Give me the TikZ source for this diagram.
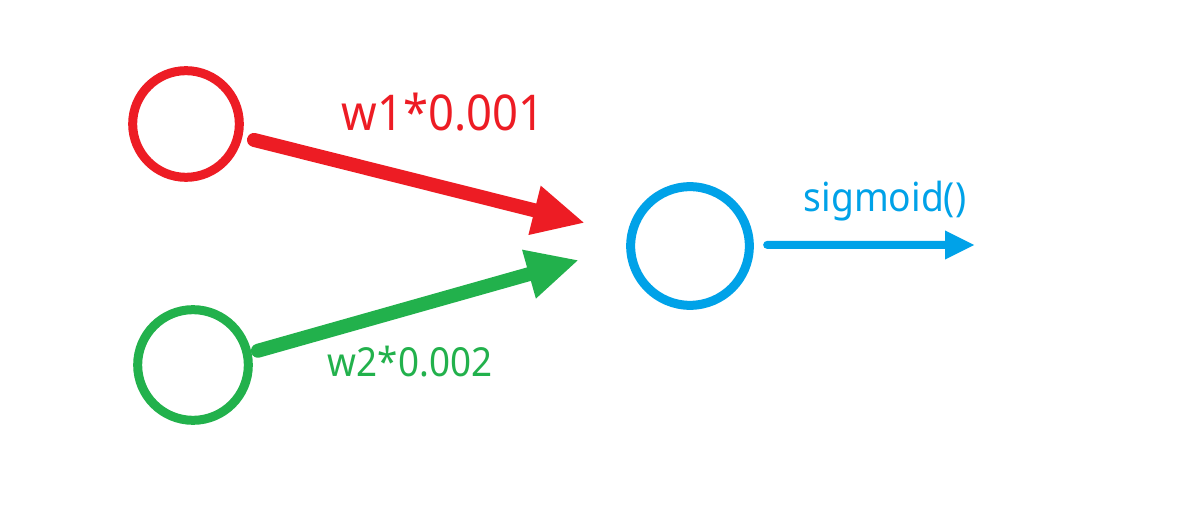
\documentclass[tikz,border=0pt]{standalone}
\usepackage{fontspec}
\setmainfont{Noto Sans}
\usetikzlibrary{arrows.meta}
\definecolor{pred}{HTML}{ED1C24}
\definecolor{pgreen}{HTML}{22B14C}
\definecolor{pblue}{HTML}{00A2E8}
\begin{document}
\begin{tikzpicture}[x=0.75pt,y=-0.75pt,
  neuron/.style={circle,draw,line width=6.75pt,inner sep=0pt},
  bigarrow/.style={line width=10.5pt,line cap=round,-{Triangle[length=39pt,width=35pt]}},
  smallarrow/.style={line width=6pt,line cap=round,-{Triangle[length=22.5pt,width=20pt]}},
  lbl/.style={inner sep=0pt}]
\useasboundingbox (0,0) rectangle (1180,523);
\fill[white] (0,0) rectangle (1180,523);
\node[neuron,pred,minimum size=80pt] (r) at (186,124) {};
\node[neuron,pgreen,minimum size=83pt] (g) at (193,365) {};
\node[neuron,pblue,minimum size=89pt] (b) at (690,246) {};
\coordinate (rt) at (585,223);
\coordinate (gt) at (579,260);
\coordinate (bt) at (975,245);
\draw[bigarrow,pred,shorten <=9pt] (r.-13) -- (rt);
\draw[bigarrow,pgreen,shorten <=5pt] (g.12.5) -- (gt);
\draw[smallarrow,pblue,shorten <=10pt] (b.1) -- (bt);
\node[lbl,text=pred,font=\fontsize{37}{40}\selectfont] (t1) at (443,112) {\scalebox{0.92}[1]{w1*0.001}};
\node[lbl,text=pgreen,font=\fontsize{30}{33}\selectfont] (t2) at (410,362) {\scalebox{0.92}[1]{w2*0.002}};
\node[lbl,text=pblue,font=\fontsize{30}{33}\selectfont] (t3) at (885,201) {\scalebox{0.93}[1]{sigmoid()}};
\end{tikzpicture}
\end{document}
